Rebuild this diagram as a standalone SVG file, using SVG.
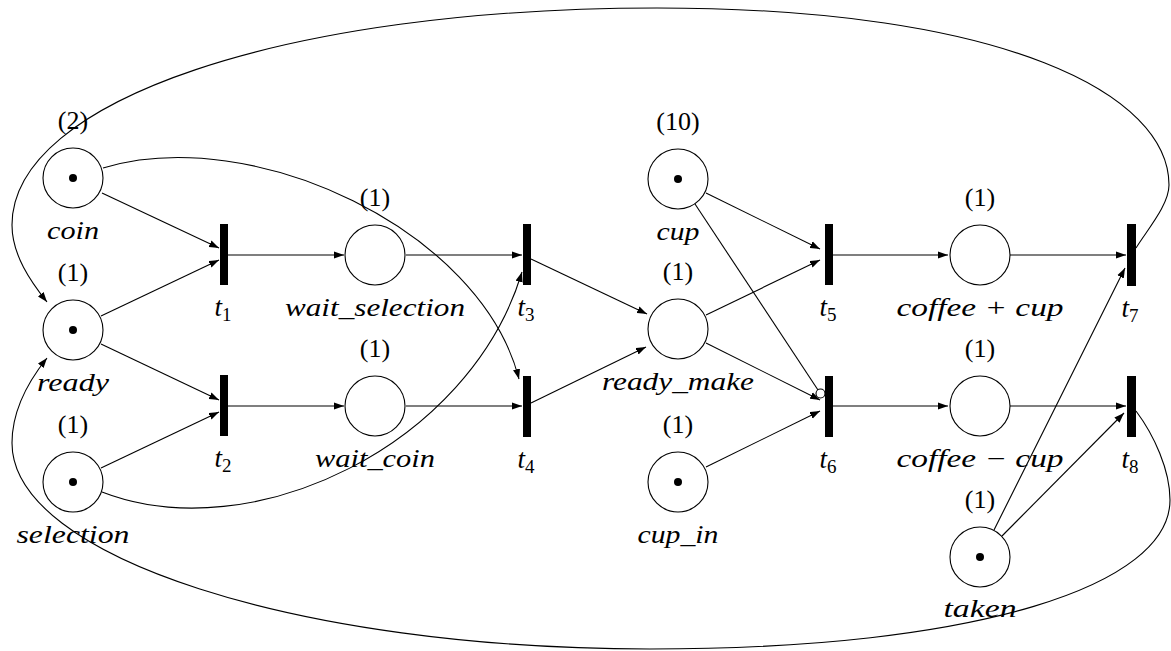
<svg xmlns="http://www.w3.org/2000/svg" width="1171" height="651" viewBox="0 0 1171 651">
<style>
.pl{fill:#fff;stroke:#000;stroke-width:1.1}
.tr{fill:#000}
.tok{fill:#000}
.lbl{font-family:"Liberation Serif","DejaVu Serif",serif;font-size:26px;text-anchor:middle;fill:#000}
.it{font-style:italic;font-size:25px}
.tl{font-family:"Liberation Serif","DejaVu Serif",serif;font-size:27px;font-style:italic;text-anchor:middle;fill:#000}
.sub{font-style:normal;font-size:19px}
.arc{fill:none;stroke:#000;stroke-width:1.1;marker-end:url(#ah)}
.inh{fill:none;stroke:#000;stroke-width:1.1}
.inhc{fill:#fff;stroke:#000;stroke-width:1.1}
</style>
<defs>
<marker id="ah" markerWidth="11" markerHeight="8" refX="10" refY="4" orient="auto" markerUnits="userSpaceOnUse">
<path d="M0,0.4 L10,4 L0,7.6 z" fill="#000"/>
</marker>
</defs>
<rect width="1171" height="651" fill="#fff"/>
<g id="connectors">
<path class="arc" d="M102,193 L219,248"/>
<path class="arc" d="M101,316 L219,260"/>
<path class="arc" d="M101,344 L219,400"/>
<path class="arc" d="M101,468 L219,412"/>
<path class="arc" d="M228,255 L344,255"/>
<path class="arc" d="M406,255 L522,255"/>
<path class="arc" d="M228,406 L344,406"/>
<path class="arc" d="M406,406 L522,406"/>
<path class="arc" d="M103,168 C253,123 481,230 519,379"/>
<path class="arc" d="M102,492 C252,550 470,445 522,272"/>
<path class="arc" d="M531,259 L647,314"/>
<path class="arc" d="M531,403 L646,347"/>
<path class="arc" d="M706,193 L820,249"/>
<path class="arc" d="M706,315 L820,260"/>
<path class="arc" d="M706,343 L820,400"/>
<path class="inh" d="M695,204 L818,390"/>
<circle class="inhc" cx="820.5" cy="393.5" r="4.5"/>
<path class="arc" d="M706,467 L820,411"/>
<path class="arc" d="M833,255 L948,255"/>
<path class="arc" d="M1010,255 L1126,255"/>
<path class="arc" d="M833,406 L948,406"/>
<path class="arc" d="M1010,406 L1126,406"/>
<path class="arc" d="M994,530 L1125,268"/>
<path class="arc" d="M1002,536 L1124,413"/>
<path class="arc" d="M1136,248 C1147,230 1169,205 1169,185 C1169,95 1007,8 657,8 C287,8 12,100 12,225 C12,255 31,282 47,302"/>
<path class="arc" d="M1136,411 C1154,435 1170,470 1170,500 C1170,585 980,649 650,649 C298,649 12,557 12,443 C12,408 31,378 47,358"/>
</g>
<g id="coin">
<circle class="pl" cx="73" cy="178" r="30"/><circle class="tok" cx="73" cy="178" r="4"/>
<text class="lbl" x="73" y="129">(2)</text>
<text class="lbl it" x="73" y="239" textLength="52" lengthAdjust="spacingAndGlyphs">coin</text>
</g>
<g id="ready">
<circle class="pl" cx="73" cy="330" r="30"/><circle class="tok" cx="73" cy="330" r="4"/>
<text class="lbl" x="73" y="281">(1)</text>
<text class="lbl it" x="73" y="391" textLength="72" lengthAdjust="spacingAndGlyphs">ready</text>
</g>
<g id="selection">
<circle class="pl" cx="73" cy="482" r="30"/><circle class="tok" cx="73" cy="482" r="4"/>
<text class="lbl" x="73" y="433">(1)</text>
<text class="lbl it" x="73" y="543" textLength="113" lengthAdjust="spacingAndGlyphs">selection</text>
</g>
<g id="wait_selection">
<circle class="pl" cx="375" cy="255" r="30"/>
<text class="lbl" x="375" y="206">(1)</text>
<text class="lbl it" x="375" y="316" textLength="180" lengthAdjust="spacingAndGlyphs">wait_selection</text>
</g>
<g id="wait_coin">
<circle class="pl" cx="375" cy="406" r="30"/>
<text class="lbl" x="375" y="357">(1)</text>
<text class="lbl it" x="375" y="467" textLength="120" lengthAdjust="spacingAndGlyphs">wait_coin</text>
</g>
<g id="cup">
<circle class="pl" cx="678" cy="179" r="30"/><circle class="tok" cx="678" cy="179" r="4"/>
<text class="lbl" x="678" y="130">(10)</text>
<text class="lbl it" x="678" y="240" textLength="43" lengthAdjust="spacingAndGlyphs">cup</text>
</g>
<g id="ready_make">
<circle class="pl" cx="678" cy="329" r="30"/>
<text class="lbl" x="678" y="280">(1)</text>
<text class="lbl it" x="678" y="390" textLength="152" lengthAdjust="spacingAndGlyphs">ready_make</text>
</g>
<g id="cup_in">
<circle class="pl" cx="678" cy="482" r="30"/><circle class="tok" cx="678" cy="482" r="4"/>
<text class="lbl" x="678" y="433">(1)</text>
<text class="lbl it" x="678" y="543" textLength="81" lengthAdjust="spacingAndGlyphs">cup_in</text>
</g>
<g id="coffee_plus_cup">
<circle class="pl" cx="980" cy="255" r="30"/>
<text class="lbl" x="980" y="206">(1)</text>
<text class="lbl it" x="980" y="316" textLength="167" lengthAdjust="spacingAndGlyphs">coffee + cup</text>
</g>
<g id="coffee_minus_cup">
<circle class="pl" cx="980" cy="406" r="30"/>
<text class="lbl" x="980" y="357">(1)</text>
<text class="lbl it" x="980" y="467" textLength="167" lengthAdjust="spacingAndGlyphs">coffee − cup</text>
</g>
<g id="taken">
<circle class="pl" cx="980" cy="557" r="30"/><circle class="tok" cx="980" cy="557" r="4"/>
<text class="lbl" x="980" y="508">(1)</text>
<text class="lbl it" x="980" y="617" textLength="73" lengthAdjust="spacingAndGlyphs">taken</text>
</g>
<g id="t1"><rect class="tr" x="220" y="224" width="8" height="61"/><text class="tl" x="223" y="316">t<tspan class="sub" dy="5">1</tspan></text></g>
<g id="t2"><rect class="tr" x="220" y="375" width="8" height="61"/><text class="tl" x="223" y="467">t<tspan class="sub" dy="5">2</tspan></text></g>
<g id="t3"><rect class="tr" x="523" y="224" width="8" height="61"/><text class="tl" x="526" y="316">t<tspan class="sub" dy="5">3</tspan></text></g>
<g id="t4"><rect class="tr" x="523" y="376" width="8" height="61"/><text class="tl" x="526" y="468">t<tspan class="sub" dy="5">4</tspan></text></g>
<g id="t5"><rect class="tr" x="825" y="224" width="8" height="61"/><text class="tl" x="828" y="316">t<tspan class="sub" dy="5">5</tspan></text></g>
<g id="t6"><rect class="tr" x="825" y="376" width="8" height="61"/><text class="tl" x="828" y="468">t<tspan class="sub" dy="5">6</tspan></text></g>
<g id="t7"><rect class="tr" x="1127" y="224" width="9" height="62"/><text class="tl" x="1130" y="317">t<tspan class="sub" dy="5">7</tspan></text></g>
<g id="t8"><rect class="tr" x="1127" y="376" width="9" height="61"/><text class="tl" x="1130" y="468">t<tspan class="sub" dy="5">8</tspan></text></g>
</svg>
